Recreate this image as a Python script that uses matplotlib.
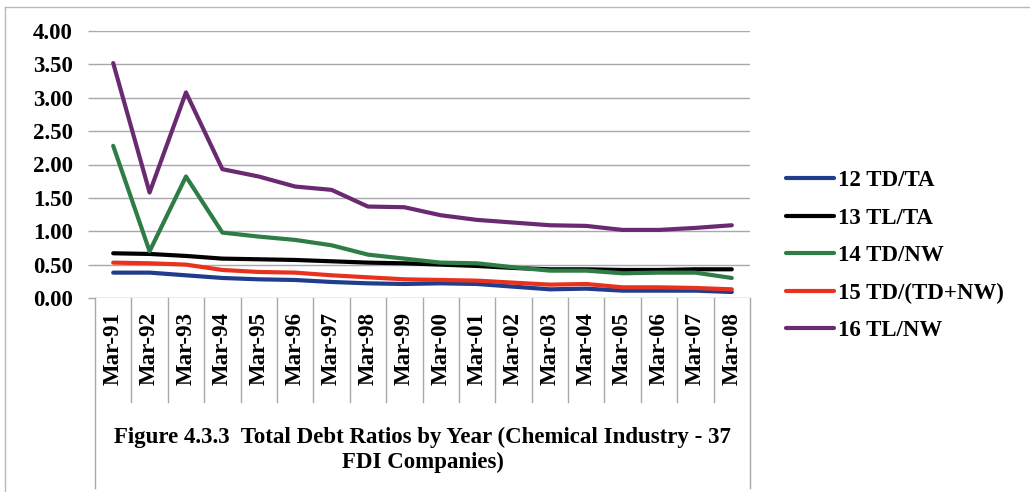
import matplotlib
matplotlib.use("Agg")
import matplotlib.pyplot as plt
from matplotlib.lines import Line2D

years = ["Mar-91", "Mar-92", "Mar-93", "Mar-94", "Mar-95", "Mar-96", "Mar-97", "Mar-98", "Mar-99",
         "Mar-00", "Mar-01", "Mar-02", "Mar-03", "Mar-04", "Mar-05", "Mar-06", "Mar-07", "Mar-08"]

td_ta = [0.38, 0.38, 0.34, 0.30, 0.28, 0.27, 0.24, 0.22, 0.21,
         0.22, 0.21, 0.17, 0.13, 0.14, 0.11, 0.11, 0.11, 0.09]
tl_ta = [0.67, 0.66, 0.63, 0.59, 0.58, 0.57, 0.55, 0.53, 0.52,
         0.50, 0.48, 0.45, 0.43, 0.43, 0.42, 0.42, 0.43, 0.43]
td_nw = [2.28, 0.70, 1.82, 0.98, 0.92, 0.87, 0.79, 0.65, 0.59,
         0.53, 0.52, 0.46, 0.41, 0.41, 0.37, 0.38, 0.38, 0.30]
td_tdnw = [0.53, 0.52, 0.50, 0.42, 0.39, 0.38, 0.34, 0.31, 0.28,
           0.27, 0.26, 0.23, 0.20, 0.21, 0.16, 0.16, 0.15, 0.13]
tl_nw = [3.52, 1.58, 3.08, 1.93, 1.82, 1.67, 1.62, 1.37, 1.36,
         1.24, 1.17, 1.13, 1.09, 1.08, 1.02, 1.02, 1.05, 1.09]

series_labels = ["12 TD/TA", "13 TL/TA", "14 TD/NW", "15 TD/(TD+NW)", "16 TL/NW"]
series_colors = ["#203C8C", "#000000", "#2E7D46", "#E8321E", "#6A2A72"]
yticks = [0.0, 0.5, 1.0, 1.5, 2.0, 2.5, 3.0, 3.5, 4.0]

FONT = "Liberation Serif"
W, H = 1030, 492
fig = plt.figure(figsize=(W / 100, H / 100), dpi=100)
fig.patch.set_facecolor("white")

left, right, top, bottom = 95, 750, 31, 298
ax = fig.add_axes([left / W, (H - bottom) / H, (right - left) / W, (bottom - top) / H])

x = list(range(len(years)))
for vals, lab, col in zip([td_ta, tl_ta, td_nw, td_tdnw, tl_nw], series_labels, series_colors):
    ax.plot(x, vals, color=col, lw=3.0, label=lab, solid_capstyle="round", solid_joinstyle="round")

grid_col = "#A8A8AE"
ax.set_xlim(-0.5, len(years) - 0.5)
ax.set_ylim(0, 4)
ax.set_yticks(yticks)
ax.set_yticklabels([f"{v:.2f}" for v in yticks], fontfamily=FONT, fontweight="bold", fontsize=16.5)
ax.yaxis.grid(True, color=grid_col, lw=1.0)
ax.set_axisbelow(True)
ax.tick_params(axis="y", length=5, width=1.0, color=grid_col, pad=11)
for s in ax.spines.values():
    s.set_visible(False)

ax.set_xticks(x)
ax.set_xticklabels(years, rotation=90, fontfamily=FONT, fontweight="bold", fontsize=16.5)
ax.tick_params(axis="x", length=0, pad=10)

# category separators and frame lines under the plot area
xt = ax.get_xaxis_transform()
plot_h = bottom - top
sep_depth = -(402 - bottom) / plot_h
edge_depth = -(488 - bottom) / plot_h
for i in range(len(years) - 1):
    ax.plot([i + 0.5, i + 0.5], [0, sep_depth], transform=xt, color=grid_col, lw=1.0, clip_on=False)
for xe in (-0.5, len(years) - 0.5):
    ax.plot([xe, xe], [0, edge_depth], transform=xt, color=grid_col, lw=1.0, clip_on=False)

# outer chart border (top and left)
fig.add_artist(Line2D([5 / W, 5 / W], [0, 1 - 7 / H], color="#B8B8C0", lw=1.0))
fig.add_artist(Line2D([5 / W, 1], [1 - 7 / H, 1 - 7 / H], color="#B8B8C0", lw=1.0))

# caption
cx = (left + right) / 2 / W
fig.text(cx, 1 - 437 / H, "Figure 4.3.3  Total Debt Ratios by Year (Chemical Industry - 37",
         ha="center", va="center", fontfamily=FONT, fontweight="bold", fontsize=16.5)
fig.text(cx, 1 - 462 / H, "FDI Companies)",
         ha="center", va="center", fontfamily=FONT, fontweight="bold", fontsize=16.5)

leg = fig.legend(loc="upper left", bbox_to_anchor=(786 / W, 1 - 170 / H), frameon=False,
                 prop={"family": FONT, "weight": "bold", "size": 16.5},
                 handlelength=2.1, handletextpad=0.15, labelspacing=0.72, borderpad=0, borderaxespad=0)

fig.savefig("out.png", dpi=100)
